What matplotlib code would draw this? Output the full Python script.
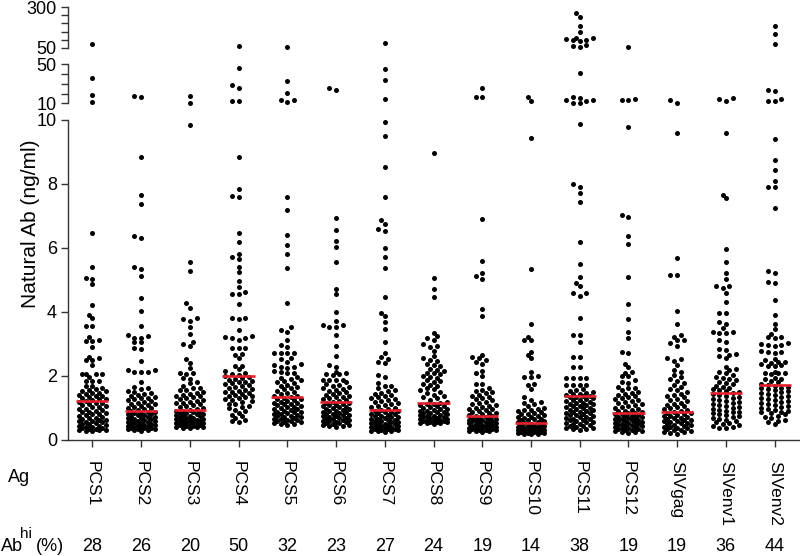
import numpy as np
import matplotlib
matplotlib.use("Agg")
import matplotlib.pyplot as plt
import matplotlib.transforms as mtransforms

plt.rcParams['font.family'] = ['Liberation Sans', 'DejaVu Sans']

categories = ['PCS1', 'PCS2', 'PCS3', 'PCS4', 'PCS5', 'PCS6', 'PCS7', 'PCS8',
              'PCS9', 'PCS10', 'PCS11', 'PCS12', 'SIVgag', 'SIVenv1', 'SIVenv2']
abhi = [28, 26, 20, 50, 32, 23, 27, 24, 19, 14, 38, 19, 19, 36, 44]
medians = [1.22, 0.91, 0.94, 2.01, 1.33, 1.18, 0.93, 1.15, 0.75, 0.52,
           1.37, 0.85, 0.86, 1.48, 1.72]

pcs1 = [70.7, 36.3, 18.6, 11.0,
        6.48, 5.42, 5.05, 5.03, 4.87, 4.23, 3.91, 3.80, 3.56, 3.56, 3.23, 3.12, 3.09, 3.09,
        2.91, 2.60, 2.55, 2.50, 2.50, 2.34, 2.05, 2.05, 2.05, 2.05, 1.98, 1.85, 1.85, 1.85,
        1.69, 1.69, 1.62, 1.58, 1.57, 1.53, 1.52, 1.47, 1.46, 1.43, 1.40, 1.38, 1.36, 1.33,
        1.31, 1.29, 1.27, 1.25, 1.23, 1.19, 1.16, 1.15, 1.11, 1.09, 1.06, 1.03, 1.02, 0.98,
        0.96, 0.93, 0.91, 0.88, 0.87, 0.84, 0.81, 0.80, 0.77, 0.75, 0.73, 0.70, 0.69, 0.66,
        0.64, 0.63, 0.60, 0.58, 0.56, 0.55, 0.52, 0.50, 0.49, 0.47, 0.45, 0.43, 0.42, 0.40,
        0.38, 0.37, 0.35, 0.34, 0.32, 0.31, 0.30, 0.29, 0.28]
pcs2 = [17.5, 16.2,
        8.85, 7.65, 7.36, 6.37, 6.32, 5.42, 5.33, 5.13, 4.43, 4.03, 3.56, 3.27, 3.26, 3.20,
        3.20, 3.05, 3.05, 2.89, 2.83, 2.47, 2.19, 2.19, 2.11, 2.11, 2.11, 1.82, 1.66, 1.64,
        1.58, 1.53, 1.50, 1.46, 1.44, 1.40, 1.37, 1.35, 1.32, 1.30, 1.27, 1.24, 1.22, 1.19,
        1.17, 1.14, 1.11, 1.09, 1.06, 1.04, 1.01, 0.99, 0.96, 0.93, 0.90, 0.89, 0.87, 0.85,
        0.84, 0.81, 0.80, 0.78, 0.77, 0.75, 0.73, 0.72, 0.70, 0.68, 0.67, 0.65, 0.64, 0.62,
        0.60, 0.59, 0.57, 0.56, 0.54, 0.53, 0.51, 0.50, 0.48, 0.47, 0.46, 0.44, 0.43, 0.41,
        0.40, 0.39, 0.37, 0.36, 0.35, 0.34, 0.33, 0.31, 0.30, 0.29]
pcs3 = [17.5, 10.4,
        9.84, 5.55, 5.27, 4.27, 4.14, 3.80, 3.78, 3.71, 3.54, 3.31, 3.05, 2.99, 2.94, 2.52,
        2.40, 2.24, 2.10, 2.08, 2.06, 1.95, 1.92, 1.80, 1.77, 1.68, 1.64, 1.61, 1.57, 1.55,
        1.50, 1.48, 1.45, 1.42, 1.39, 1.37, 1.34, 1.31, 1.28, 1.26, 1.23, 1.20, 1.17, 1.15,
        1.12, 1.09, 1.06, 1.03, 1.00, 0.97, 0.95, 0.92, 0.91, 0.89, 0.87, 0.85, 0.84, 0.82,
        0.80, 0.79, 0.77, 0.75, 0.74, 0.72, 0.70, 0.69, 0.67, 0.66, 0.64, 0.63, 0.61, 0.60,
        0.58, 0.57, 0.55, 0.54, 0.53, 0.51, 0.50, 0.49, 0.47, 0.46, 0.45, 0.43, 0.42, 0.41,
        0.40, 0.39, 0.38]
pcs4 = [60.3, 46.6, 28.5, 26.1, 12.7, 12.7,
        8.83, 7.84, 7.63, 7.58, 6.46, 6.20, 5.81, 5.73, 5.65, 5.42, 5.25, 4.98, 4.77, 4.63,
        4.56, 4.55, 4.25, 3.80, 3.80, 3.78, 3.44, 3.25, 3.23, 3.20, 3.20, 3.12, 2.89, 2.89,
        2.89, 2.68, 2.65, 2.55, 2.31, 2.31, 2.21, 2.16, 2.10, 2.07, 2.04, 1.99, 1.96, 1.93,
        1.91, 1.88, 1.85, 1.82, 1.80, 1.77, 1.74, 1.71, 1.68, 1.65, 1.63, 1.60, 1.57, 1.54,
        1.51, 1.49, 1.46, 1.44, 1.41, 1.38, 1.36, 1.33, 1.30, 1.27, 1.24, 1.21, 1.18, 1.14,
        1.11, 1.07, 1.03, 0.99, 0.95, 0.90, 0.85, 0.79, 0.74, 0.68, 0.63, 0.58, 0.55]
pcs5 = [52.0, 32.6, 20.9, 13.4, 13.4, 11.0,
        7.58, 7.19, 6.40, 6.09, 5.81, 5.39, 4.27, 3.52, 3.44, 3.38, 3.12, 2.97, 2.91, 2.71,
        2.71, 2.71, 2.71, 2.55, 2.52, 2.45, 2.36, 2.34, 2.29, 2.27, 2.26, 2.16, 2.13, 2.08,
        2.08, 1.98, 1.94, 1.90, 1.86, 1.84, 1.80, 1.77, 1.73, 1.70, 1.66, 1.62, 1.59, 1.54,
        1.50, 1.46, 1.43, 1.39, 1.36, 1.34, 1.31, 1.29, 1.27, 1.24, 1.22, 1.20, 1.17, 1.15,
        1.13, 1.11, 1.09, 1.06, 1.04, 1.02, 1.00, 0.98, 0.96, 0.94, 0.91, 0.89, 0.87, 0.86,
        0.84, 0.82, 0.80, 0.78, 0.76, 0.75, 0.73, 0.71, 0.69, 0.67, 0.66, 0.64, 0.62, 0.60,
        0.58, 0.57, 0.55, 0.53, 0.51, 0.49, 0.47]
pcs6 = [25.7, 23.7,
        6.95, 6.56, 6.22, 6.04, 5.57, 4.72, 4.55, 3.99, 3.73, 3.59, 3.59, 3.54, 3.54, 3.28,
        2.93, 2.63, 2.34, 2.29, 2.13, 2.10, 2.06, 2.05, 2.03, 1.89, 1.89, 1.89, 1.89, 1.80,
        1.76, 1.72, 1.70, 1.66, 1.63, 1.60, 1.57, 1.54, 1.50, 1.47, 1.44, 1.41, 1.38, 1.35,
        1.33, 1.30, 1.27, 1.25, 1.22, 1.20, 1.17, 1.15, 1.13, 1.10, 1.08, 1.06, 1.04, 1.02,
        1.00, 0.98, 0.96, 0.94, 0.92, 0.90, 0.88, 0.86, 0.84, 0.82, 0.81, 0.79, 0.77, 0.75,
        0.74, 0.72, 0.70, 0.68, 0.67, 0.65, 0.63, 0.62, 0.60, 0.58, 0.57, 0.55, 0.53, 0.52,
        0.50, 0.48, 0.47, 0.45, 0.44, 0.42]
pcs7 = [81.0, 44.9, 33.6, 14.1,
        9.95, 9.50, 8.52, 7.60, 6.89, 6.75, 6.60, 6.54, 5.99, 5.71, 5.36, 4.48, 3.98, 3.87,
        3.70, 3.46, 3.07, 2.71, 2.60, 2.52, 2.45, 2.41, 2.03, 1.98, 1.77, 1.69, 1.69, 1.61,
        1.55, 1.52, 1.47, 1.44, 1.40, 1.36, 1.33, 1.30, 1.27, 1.24, 1.21, 1.18, 1.15, 1.12,
        1.09, 1.06, 1.03, 1.00, 0.97, 0.95, 0.92, 0.90, 0.88, 0.86, 0.84, 0.82, 0.80, 0.78,
        0.76, 0.74, 0.72, 0.71, 0.69, 0.67, 0.65, 0.64, 0.62, 0.60, 0.59, 0.57, 0.55, 0.54,
        0.52, 0.50, 0.49, 0.47, 0.46, 0.44, 0.43, 0.41, 0.40, 0.38, 0.37, 0.35, 0.34, 0.33,
        0.31, 0.30, 0.29, 0.28, 0.27, 0.26]
pcs8 = [8.96, 5.07, 4.72, 4.46, 3.35, 3.25, 3.18, 3.14, 2.99, 2.93, 2.91, 2.79, 2.62,
        2.55, 2.50, 2.46, 2.38, 2.34, 2.30, 2.22, 2.19, 2.15, 2.10, 2.08, 2.05, 2.00, 1.98,
        1.95, 1.88, 1.85, 1.82, 1.76, 1.72, 1.69, 1.62, 1.58, 1.55, 1.50, 1.46, 1.42, 1.37,
        1.33, 1.30, 1.24, 1.20, 1.17, 1.13, 1.11, 1.09, 1.07, 1.05, 1.02, 1.00, 0.98, 0.96,
        0.94, 0.92, 0.90, 0.88, 0.86, 0.84, 0.83, 0.81, 0.79, 0.78, 0.76, 0.74, 0.73, 0.71,
        0.70, 0.68, 0.67, 0.65, 0.64, 0.62, 0.61, 0.60, 0.58, 0.57, 0.56, 0.55, 0.54, 0.53,
        0.52, 0.51]
pcs9 = [25.6, 16.4, 16.4,
        6.92, 5.60, 5.23, 5.12, 5.03, 4.08, 3.87, 2.65, 2.58, 2.55, 2.50, 2.45, 2.37, 2.17,
        2.08, 2.00, 1.75, 1.75, 1.64, 1.57, 1.52, 1.50, 1.46, 1.42, 1.38, 1.35, 1.30, 1.27,
        1.24, 1.20, 1.16, 1.13, 1.10, 1.07, 1.04, 1.01, 0.98, 0.96, 0.93, 0.90, 0.88, 0.85,
        0.83, 0.80, 0.78, 0.76, 0.74, 0.72, 0.70, 0.69, 0.67, 0.65, 0.64, 0.62, 0.61, 0.59,
        0.58, 0.56, 0.55, 0.53, 0.52, 0.50, 0.49, 0.47, 0.46, 0.45, 0.43, 0.42, 0.41, 0.39,
        0.38, 0.37, 0.36, 0.34, 0.33, 0.32, 0.31, 0.30, 0.29, 0.28, 0.27, 0.26]
pcs10 = [16.8, 12.4,
         9.43, 5.33, 3.61, 3.23, 3.12, 3.12, 2.76, 2.65, 2.55, 2.13, 2.00, 1.98, 1.98, 1.75,
         1.72, 1.58, 1.33, 1.25, 1.20, 1.15, 1.12, 1.05, 1.00, 0.97, 0.95, 0.93, 0.90, 0.87,
         0.84, 0.82, 0.80, 0.77, 0.75, 0.73, 0.71, 0.69, 0.67, 0.65, 0.63, 0.61, 0.59, 0.57,
         0.55, 0.53, 0.51, 0.49, 0.47, 0.46, 0.44, 0.43, 0.41, 0.40, 0.38, 0.37, 0.36, 0.35,
         0.34, 0.32, 0.31, 0.30, 0.29, 0.28, 0.27, 0.26, 0.25, 0.24, 0.23, 0.22, 0.21, 0.20,
         0.19, 0.18]
pcs11 = [263, 240, 186, 150, 113, 112, 104, 98, 95, 89, 66, 62, 56, 40.8, 16.2, 15.1,
         13.4, 13.4, 12.4, 10.3, 10.2,
         9.86, 8.00, 7.92, 7.71, 7.45, 6.20, 5.50, 5.10, 4.92, 4.81, 4.60, 4.60, 4.51, 3.80,
         3.28, 3.28, 3.05, 2.60, 2.60, 2.27, 2.27, 1.93, 1.93, 1.93, 1.93, 1.72, 1.72, 1.72,
         1.72, 1.60, 1.56, 1.53, 1.50, 1.48, 1.45, 1.43, 1.41, 1.39, 1.37, 1.35, 1.33, 1.30,
         1.28, 1.26, 1.24, 1.21, 1.19, 1.17, 1.15, 1.13, 1.11, 1.09, 1.07, 1.05, 1.03, 1.01,
         0.99, 0.97, 0.95, 0.93, 0.91, 0.89, 0.87, 0.85, 0.83, 0.81, 0.79, 0.77, 0.75, 0.73,
         0.71, 0.69, 0.67, 0.65, 0.63, 0.61, 0.59, 0.57, 0.55, 0.53, 0.51, 0.49, 0.47, 0.45,
         0.43, 0.41, 0.39, 0.37, 0.35, 0.33, 0.31]
pcs12 = [52.0, 14.8, 13.4, 13.4,
         9.79, 7.03, 6.96, 6.37, 6.12, 5.08, 4.24, 3.77, 3.38, 3.20, 2.76, 2.73, 2.39, 2.29,
         2.13, 2.10, 2.00, 2.00, 1.87, 1.82, 1.79, 1.66, 1.63, 1.61, 1.56, 1.50, 1.47, 1.43,
         1.40, 1.36, 1.33, 1.30, 1.27, 1.24, 1.21, 1.18, 1.15, 1.12, 1.09, 1.06, 1.03, 1.00,
         0.97, 0.95, 0.92, 0.90, 0.87, 0.85, 0.83, 0.82, 0.80, 0.78, 0.76, 0.75, 0.73, 0.71,
         0.70, 0.68, 0.66, 0.65, 0.63, 0.62, 0.60, 0.58, 0.57, 0.55, 0.54, 0.52, 0.50, 0.49,
         0.47, 0.46, 0.44, 0.43, 0.41, 0.40, 0.38, 0.37, 0.35, 0.34, 0.32, 0.31, 0.29, 0.28,
         0.26, 0.25, 0.23]
sivgag = [13.4, 10.2,
          9.58, 5.68, 5.16, 5.16, 4.03, 3.62, 3.28, 3.23, 3.14, 3.12, 3.02, 2.93, 2.55, 2.52,
          2.48, 2.34, 2.20, 2.12, 2.04, 1.97, 1.90, 1.85, 1.78, 1.71, 1.65, 1.60, 1.55, 1.50,
          1.45, 1.41, 1.37, 1.33, 1.29, 1.25, 1.21, 1.17, 1.13, 1.10, 1.06, 1.03, 1.00, 0.97,
          0.94, 0.91, 0.88, 0.85, 0.83, 0.81, 0.79, 0.76, 0.74, 0.72, 0.70, 0.68, 0.66, 0.64,
          0.62, 0.60, 0.58, 0.56, 0.54, 0.52, 0.50, 0.48, 0.46, 0.44, 0.42, 0.40, 0.38, 0.36,
          0.34, 0.32, 0.30, 0.28, 0.26, 0.24, 0.22, 0.20]
sivenv1 = [15.1, 14.1, 12.4,
           9.58, 7.65, 7.55, 5.96, 5.57, 5.23, 5.02, 4.81, 4.81, 4.74, 4.60, 4.32, 3.98, 3.98,
           3.70, 3.64, 3.49, 3.38, 3.38, 3.35, 3.35, 3.14, 3.07, 2.83, 2.81, 2.68, 2.66, 2.62,
           2.55, 2.29, 2.21, 2.19, 2.14, 2.08, 2.03, 1.98, 1.94, 1.90, 1.86, 1.82, 1.78, 1.74,
           1.70, 1.66, 1.62, 1.58, 1.55, 1.52, 1.49, 1.46, 1.43, 1.40, 1.37, 1.34, 1.31, 1.28,
           1.25, 1.22, 1.19, 1.16, 1.13, 1.10, 1.07, 1.04, 1.01, 0.98, 0.95, 0.92, 0.89, 0.86,
           0.83, 0.80, 0.77, 0.74, 0.71, 0.68, 0.65, 0.62, 0.59, 0.56, 0.53, 0.50, 0.47, 0.44,
           0.41, 0.38, 0.36]
sivenv2 = [184, 135, 70.7, 23.7, 22.7, 14.1, 12.7, 12.4,
           9.40, 8.75, 8.44, 8.09, 7.92, 7.92, 7.24, 5.28, 5.23, 4.93, 4.92, 4.37, 3.91, 3.64,
           3.46, 3.31, 3.23, 3.21, 3.18, 3.02, 3.00, 2.98, 2.97, 2.95, 2.78, 2.76, 2.74, 2.72,
           2.52, 2.50, 2.45, 2.44, 2.42, 2.36, 2.34, 2.32, 2.30, 2.12, 2.10, 2.09, 2.08, 2.05,
           1.95, 1.92, 1.90, 1.85, 1.80, 1.76, 1.73, 1.70, 1.67, 1.64, 1.61, 1.58, 1.55, 1.52,
           1.49, 1.46, 1.43, 1.40, 1.37, 1.34, 1.31, 1.28, 1.25, 1.22, 1.19, 1.16, 1.13, 1.10,
           1.07, 1.04, 1.01, 0.98, 0.95, 0.92, 0.89, 0.86, 0.83, 0.80, 0.76, 0.72, 0.68, 0.64,
           0.60, 0.55, 0.49]

all_values = [pcs1, pcs2, pcs3, pcs4, pcs5, pcs6, pcs7, pcs8, pcs9, pcs10,
              pcs11, pcs12, sivgag, sivenv1, sivenv2]

# broken y axis: three stacked panels
W, H = 800, 556
fig = plt.figure(figsize=(W / 100, H / 100), dpi=100)
left, right = 68 / W, 799 / W
segments = [(0, 10, 120, 440), (10, 50, 64.3, 103.3), (50, 300, 7.3, 47.7)]
axes = []
for lo, hi, ytop, ybot in segments:
    ax = fig.add_axes([left, 1 - ybot / H, right - left, (ybot - ytop) / H])
    ax.set_ylim(lo, hi)
    ax.set_xlim(-0.5, len(categories) - 0.5)
    axes.append((ax, lo, hi, ybot - ytop))

px_per_cat = (799 - 68) / len(categories)


def swarm(ypix, lane=3.35, nlanes=4, d=4.6):
    # simple lane-based beeswarm, offsets in pixels
    cands = [0.0]
    for k in range(1, nlanes + 1):
        cands += [-k * lane, k * lane]
    placed = []
    offs = np.zeros(len(ypix))
    for i in np.argsort(ypix):
        y = ypix[i]
        best, bestd = 0.0, -1.0
        for c in cands:
            if placed:
                p = np.array(placed)
                dist = np.hypot(p[:, 0] - c, p[:, 1] - y).min()
            else:
                dist = np.inf
            if dist >= d:
                best = c
                break
            if dist > bestd:
                best, bestd = c, dist
        offs[i] = best
        placed.append((best, y))
    return offs


for ax, lo, hi, hpx in axes:
    for i, vals in enumerate(all_values):
        v = np.array(vals, dtype=float)
        if lo == 0:
            v = v[v <= hi]
        else:
            v = v[(v > lo) & (v <= hi)]
        if len(v) == 0:
            continue
        ypix = (v - lo) / (hi - lo) * hpx
        offs = swarm(ypix)
        ax.plot(i + offs / px_per_cat, v, 'o', color='black', ms=3.6,
                mec='none', clip_on=False, zorder=2)

    for sp in ['top', 'right']:
        ax.spines[sp].set_visible(False)
    ax.spines['left'].set_color('#333333')
    ax.spines['left'].set_linewidth(1.0)
    ax.tick_params(axis='y', direction='out', length=5, width=1.0,
                   color='#333333', labelsize=13, pad=3)

ax0, ax1, ax2 = axes[0][0], axes[1][0], axes[2][0]

# bottom panel
ax0.set_yticks([0, 2, 4, 6, 8, 10])
ax0.spines['bottom'].set_color('#333333')
ax0.spines['bottom'].set_linewidth(1.0)
ax0.set_xticks(range(len(categories)))
ax0.set_xticklabels(categories, rotation=270, fontsize=12.5, va='top', ha='center')
ax0.tick_params(axis='x', direction='out', length=5, width=1.0, color='#333333', pad=10)
for i, m in enumerate(medians):
    ax0.hlines(m, i - 0.33, i + 0.33, color='#e3202b', lw=1.9, zorder=3)

# middle and top panels
ax1.set_yticks([10, 20, 30, 40, 50])
ax1.set_yticklabels(['10', '', '', '', '50'])
ax2.set_yticks([50, 100, 150, 200, 250, 300])
ax2.set_yticklabels(['50', '', '', '', '', '300'])
for ax in (ax1, ax2):
    ax.spines['bottom'].set_visible(False)
    ax.set_xticks([])

fig.text(31 / W, 1 - 224 / H, 'Natural Ab (ng/ml)', rotation=90, fontsize=15,
         ha='center', va='center')

fig.text(8 / W, 1 - 482 / H, 'Ag', fontsize=13, ha='left', va='baseline')
fig.text(1 / W, 1 - 551 / H, 'Ab', fontsize=13, ha='left', va='baseline')
fig.text(20 / W, 1 - 538 / H, 'hi', fontsize=11, ha='left', va='baseline')
fig.text(36 / W, 1 - 551 / H, '(%)', fontsize=13, ha='left', va='baseline')

trans = mtransforms.blended_transform_factory(ax0.transData, fig.transFigure)
for i, p in enumerate(abhi):
    ax0.text(i, 1 - 551 / H, str(p), transform=trans, fontsize=13,
             ha='center', va='baseline')

fig.savefig('out.png', dpi=100)
